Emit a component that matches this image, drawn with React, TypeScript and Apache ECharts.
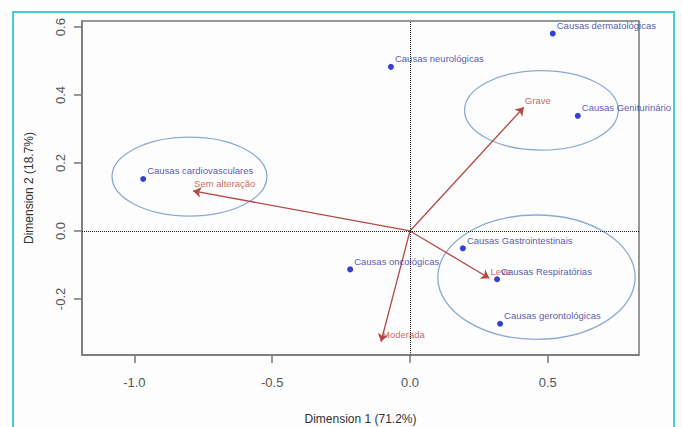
import React, { useEffect, useRef } from "react";
import * as echarts from "echarts";

const pointNames = [
  "Causas cardiovasculares",
  "Causas neurológicas",
  "Causas dermatológicas",
  "Causas Geniturinário",
  "Causas Gastrointestinais",
  "Causas oncológicas",
  "Causas Respiratórias",
  "Causas gerontológicas",
];
const pointX = [-0.968, -0.069, 0.518, 0.609, 0.192, -0.217, 0.316, 0.327];
const pointY = [0.153, 0.483, 0.581, 0.339, -0.051, -0.113, -0.142, -0.273];

const arrowNames = ["Sem alteração", "Grave", "Leve", "Moderada"];
const arrowX = [-0.787, 0.413, 0.288, -0.105];
const arrowY = [0.118, 0.364, -0.139, -0.326];

const ellipseCx = [-0.8, 0.477, 0.459];
const ellipseCy = [0.16, 0.355, -0.136];
const ellipseRx = [0.281, 0.279, 0.358];
const ellipseRy = [0.116, 0.117, 0.183];

const xTicks = [-1.0, -0.5, 0.0, 0.5];
const yTicks = [-0.2, 0.0, 0.2, 0.4, 0.6];

const xTitle = "Dimension 1 (71.2%)";
const yTitle = "Dimension 2 (18.7%)";

const sans = "'Liberation Sans', Arial, sans-serif";

export default function App() {
  const ref = useRef<HTMLDivElement>(null);
  useEffect(() => {
    if (!ref.current) return;
    const chart = echarts.init(ref.current, null, { renderer: "svg" });
    const option: any = {
      animation: false,
      backgroundColor: "#fdfdfd",
      graphic: [
        {
          type: "rect",
          shape: { x: 13, y: 12, width: 661, height: 440 },
          style: { fill: "none", stroke: "#45cdd8", lineWidth: 2 },
          silent: true,
          z: 100,
        },
      ],
      grid: {
        left: 82,
        right: 43,
        top: 21,
        bottom: 72,
        show: true,
        outerBoundsMode: "none",
        containLabel: false,
        borderColor: "#777",
        borderWidth: 1.5,
        backgroundColor: "transparent",
      },
      xAxis: {
        type: "value",
        min: -1.19,
        max: 0.831,
        splitLine: { show: false },
        axisLine: { show: true, onZero: false, lineStyle: { color: "#777", width: 1.5 } },
        axisTick: {
          show: true,
          length: 8,
          customValues: xTicks,
          lineStyle: { color: "#777", width: 1.5 },
        },
        axisLabel: {
          customValues: xTicks,
          formatter: (v: number) => v.toFixed(1),
          fontSize: 13,
          color: "#555",
          fontFamily: sans,
          margin: 21,
        },
        name: xTitle,
        nameLocation: "middle",
        nameGap: 58,
        nameTextStyle: { fontSize: 12, color: "#333", fontFamily: sans },
      },
      yAxis: {
        type: "value",
        min: -0.365,
        max: 0.618,
        splitLine: { show: false },
        axisLine: { show: true, onZero: false, lineStyle: { color: "#777", width: 1.5 } },
        axisTick: {
          show: true,
          length: 8,
          customValues: yTicks,
          lineStyle: { color: "#777", width: 1.5 },
        },
        axisLabel: {
          customValues: yTicks,
          formatter: (v: number) => v.toFixed(1),
          fontSize: 13,
          color: "#555",
          fontFamily: sans,
          rotate: 90,
          margin: 15,
        },
        name: yTitle,
        nameLocation: "middle",
        nameGap: 47,
        nameTextStyle: { fontSize: 12, color: "#333", fontFamily: sans },
      },
      series: [
        {
          type: "custom",
          coordinateSystem: "cartesian2d",
          silent: true,
          encode: { x: 0, y: 1 },
          data: ellipseCx.map((cx, i) => [cx, ellipseCy[i], ellipseRx[i], ellipseRy[i]]),
          renderItem: (params: any, api: any) => {
            const c = api.coord([api.value(0), api.value(1)]);
            const s = api.size([api.value(2), api.value(3)]);
            return {
              type: "ellipse",
              shape: { cx: c[0], cy: c[1], rx: s[0], ry: s[1] },
              style: { fill: "none", stroke: "#8aaad4", lineWidth: 1.3 },
            };
          },
          z: 1,
        },
        {
          type: "lines",
          coordinateSystem: "cartesian2d",
          silent: true,
          symbol: ["none", "arrow"],
          symbolSize: 8,
          lineStyle: { color: "#b24a44", width: 1.3, opacity: 1 },
          data: arrowX.map((x, i) => ({ coords: [[0, 0], [x, arrowY[i]]] })),
          z: 3,
        },
        {
          type: "scatter",
          silent: true,
          symbolSize: 0.1,
          itemStyle: { color: "transparent" },
          data: arrowX.map((x, i) => ({ name: arrowNames[i], value: [x, arrowY[i]] })),
          label: {
            show: true,
            position: "right",
            distance: 1,
            offset: [0, -7],
            formatter: (p: any) => p.name,
            fontSize: 9.5,
            color: "#b8423c",
            fontFamily: sans,
          },
          z: 4,
        },
        {
          type: "scatter",
          silent: true,
          symbolSize: 6,
          itemStyle: { color: "#0010c8" },
          data: pointX.map((x, i) => ({ name: pointNames[i], value: [x, pointY[i]] })),
          label: {
            show: true,
            position: "right",
            distance: 1,
            offset: [0, -8],
            formatter: (p: any) => p.name,
            fontSize: 9.5,
            color: "#2c2c9c",
            fontFamily: sans,
          },
          markLine: {
            silent: true,
            symbol: "none",
            label: { show: false },
            lineStyle: { type: "dotted", color: "#222", width: 1 },
            data: [{ xAxis: 0 }, { yAxis: 0 }],
          },
          z: 5,
        },
      ],
    };
    chart.setOption(option);
    return () => chart.dispose();
  }, []);
  return (
    <div
      ref={ref}
      style={{ position: "absolute", left: 0, top: 0, width: 682, height: 427 }}
    />
  );
}
